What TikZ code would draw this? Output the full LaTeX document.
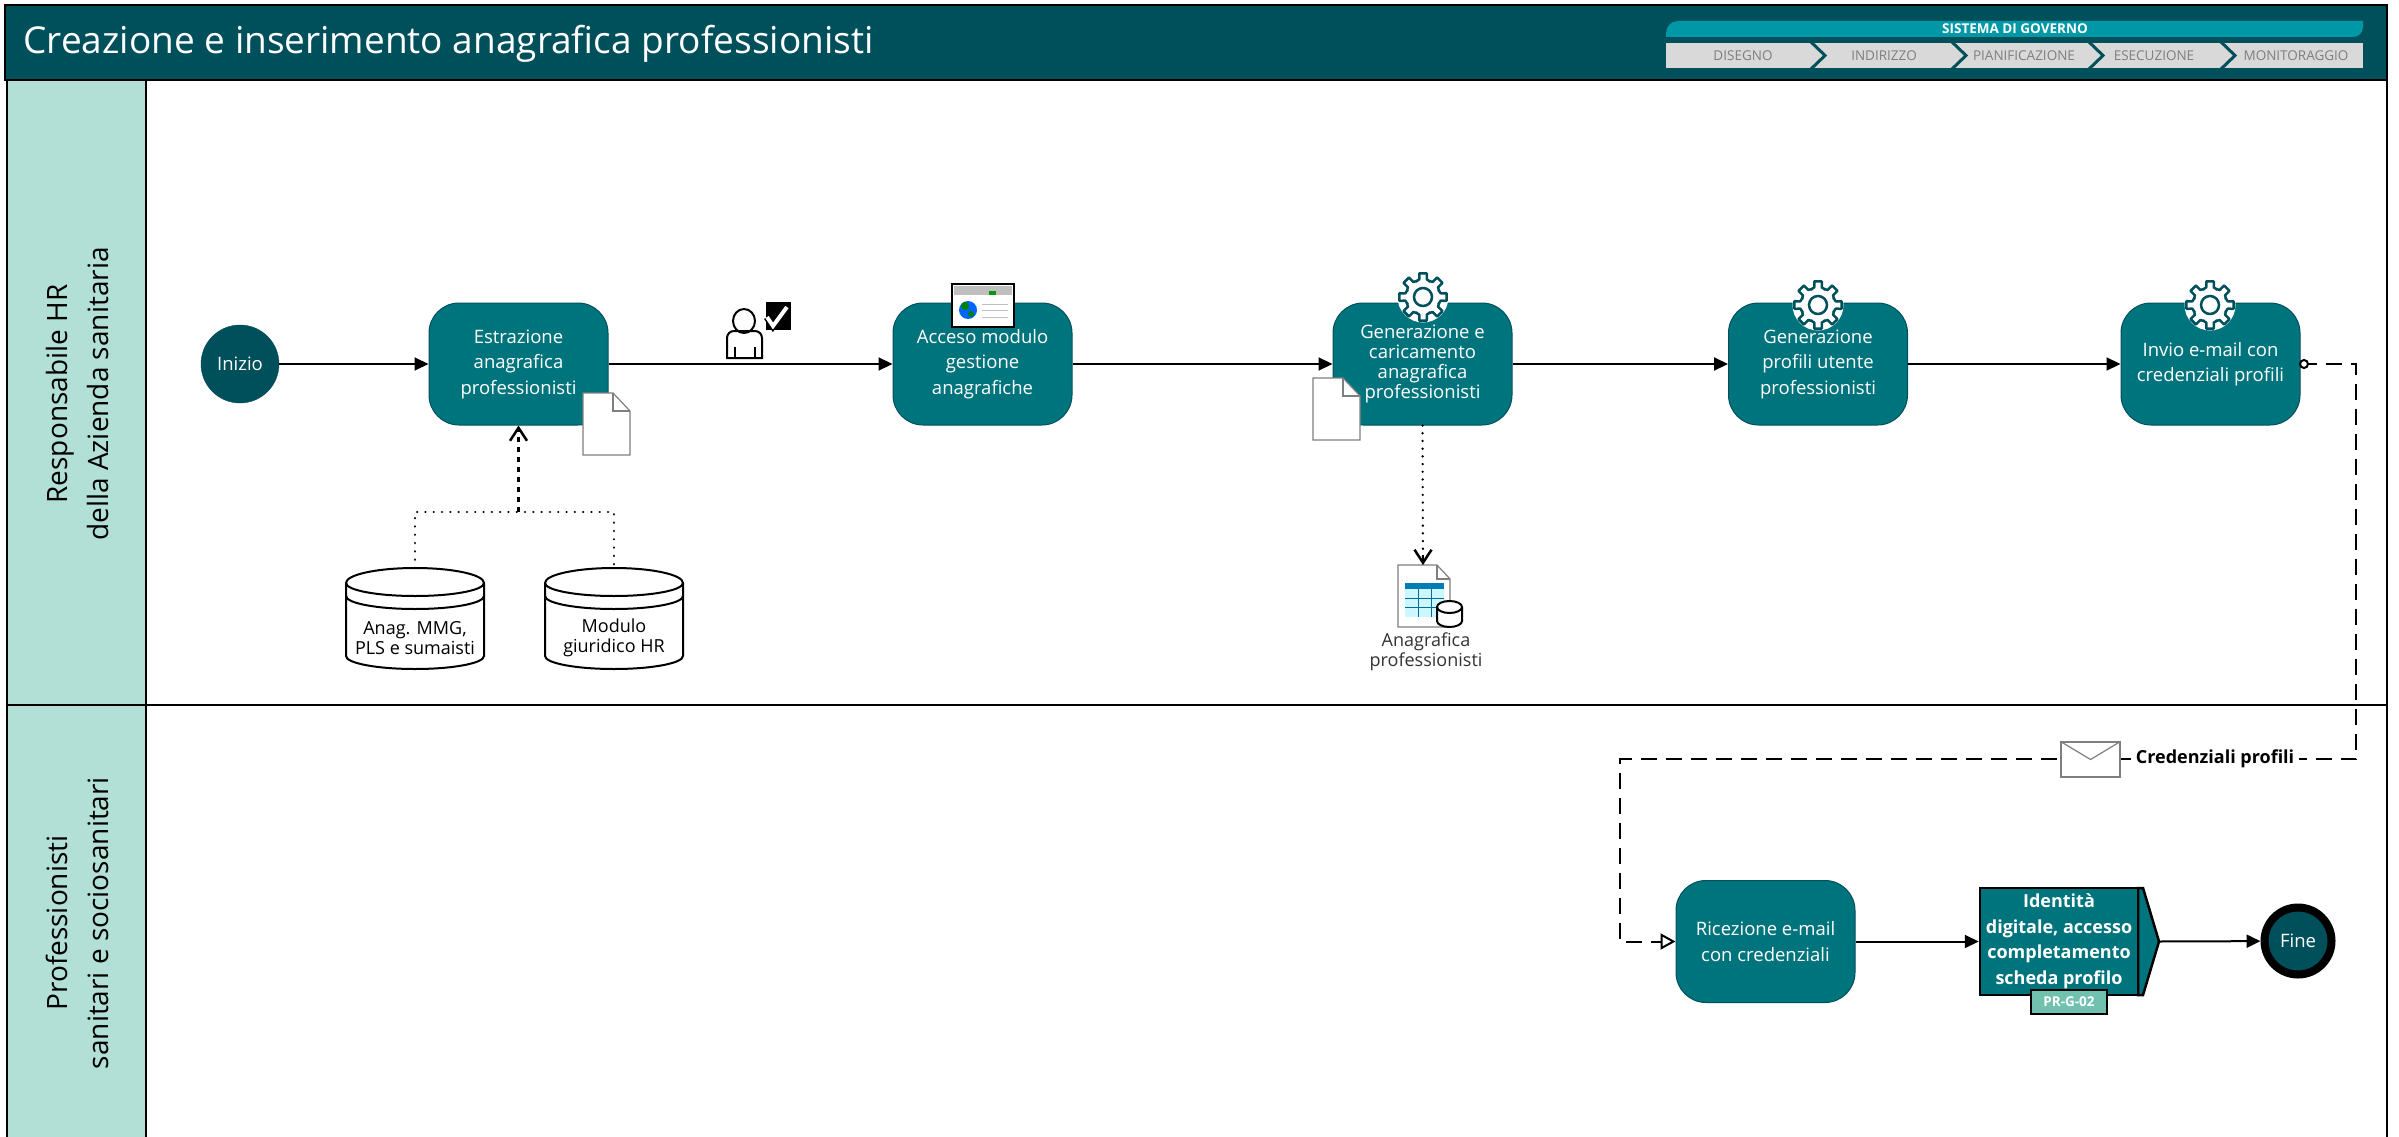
\documentclass[tikz,border=0pt]{standalone}
\usepackage{fontspec}
\setmainfont{Open Sans}
\usetikzlibrary{arrows.meta}
\definecolor{headteal}{RGB}{0,80,92}
\definecolor{boxteal}{RGB}{0,116,125}
\definecolor{barteal}{RGB}{0,151,167}
\definecolor{lanegreen}{RGB}{178,224,214}
\definecolor{tagteal}{RGB}{112,193,174}
\definecolor{chevgray}{RGB}{217,217,217}
\definecolor{chevtext}{RGB}{127,127,127}
\definecolor{docgray}{RGB}{127,127,127}
\tikzset{
	taskbox/.style={draw=headteal,line width=1pt,fill=boxteal,rounded corners=30pt,minimum width=179pt,minimum height=122pt,inner sep=0pt,align=center,text=white,font=\fontsize{18.5}{25.5}\selectfont},
	lanebox/.style={rotate=90,align=center,font=\fontsize{28}{41}\selectfont},
	chevlabel/.style={text=chevtext,font=\fontsize{13.5}{15}\selectfont},
	flow/.style={line width=2pt,-{Triangle[length=14pt,width=13pt]}},
	msgflow/.style={line width=2pt,dash pattern=on 16pt off 9pt,-{Triangle[open,fill=white,length=15pt,width=16pt,line width=2pt]}},
	dotlink/.style={line width=2.5pt,line cap=round,dash pattern=on 0.1pt off 8.2pt},
	datalink/.style={line width=2.5pt,dash pattern=on 5pt off 5pt,-{Straight Barb[length=13pt,width=17pt,line width=2.5pt]}},
	docicon/.pic={
		\draw[draw=docgray,fill=white,line width=1.2pt] (0,0) -- (30,0) -- (47,18) -- (47,62) -- (0,62) -- cycle;
		\draw[draw=docgray,line width=1.2pt] (30,0) -- (30,18) -- (47,18);
	},
	dbstore/.pic={
		\draw[fill=white,line width=2pt] (-69,15) arc[start angle=180,end angle=360,x radius=69,y radius=15] -- (69,88) arc[start angle=0,end angle=180,x radius=69,y radius=13] -- cycle;
		\draw[line width=2pt] (-69,15) arc[start angle=180,end angle=0,x radius=69,y radius=13];
		\draw[line width=2pt] (-69,28) arc[start angle=180,end angle=0,x radius=69,y radius=13];
	},
	gearicon/.pic={
		\fill[white] (0,0) circle (25.5);
		\foreach \a in {0,45,...,315}
			\draw[headteal,line width=2.5pt,line join=round] (\a-25:17) -- (\a-12:18) -- (\a-9:24) -- (\a+9:24) -- (\a+12:18) -- (\a+25:17);
		\draw[headteal,line width=2.5pt] (0,0) circle (9);
	},
}
\begin{document}
\begin{tikzpicture}[x=1pt,y=-1pt]
	\useasboundingbox (0,0) rectangle (2399,1137);
	\fill[white] (0,0) rectangle (2399,1137);
	\fill[lanegreen] (7,80) rectangle (146,1137);
	\draw[line width=2.5pt] (7,1137) -- (7,80) -- (2387,80) -- (2387,1137);
	\draw[line width=2.5pt] (146,80) -- (146,1137);
	\draw[line width=2.5pt] (7,705) -- (2387,705);
	\fill[headteal,draw=black,line width=2pt] (5,5) rectangle (2387,80);
	\node[anchor=west,text=white,font=\fontsize{37}{44}\selectfont] (titolo) at (20,44) {Creazione e inserimento anagrafica professionisti};
	% sistema di governo
	\fill[barteal] (1678,21) -- (2363,21) -- (2363,27) arc[start angle=0,end angle=90,radius=10] -- (1666,37) -- (1666,33) arc[start angle=180,end angle=270,radius=12] -- cycle;
	\node[text=white,font=\bfseries\fontsize{13.5}{15}\selectfont] (sistema) at (2015,29) {SISTEMA DI GOVERNO};
	\fill[chevgray] (1666,43) rectangle (2363,68);
	\foreach \x in {1811,1952,2089,2221}
		\draw[headteal,line width=3pt] (\x,42) -- (\x+14,55.5) -- (\x,69);
	\foreach \x/\t in {1743/DISEGNO,1884/INDIRIZZO,2024/PIANIFICAZIONE,2154/ESECUZIONE,2296/MONITORAGGIO}
		\node[chevlabel] at (\x,56) {\t};
	% corsie
	\node[lanebox] (lanehr) at (77.5,394) {Responsabile HR\\della Azienda sanitaria};
	\node[lanebox] (lanepro) at (77.5,923) {Professionisti\\sanitari e sociosanitari};
	% prima corsia
	\node[circle,draw=headteal,fill=headteal,minimum size=78pt,inner sep=0pt,text=white,font=\fontsize{18.5}{22}\selectfont] (inizio) at (240,364) {Inizio};
	\node[taskbox] (estr) at (518.5,364) {Estrazione\\anagrafica\\professionisti};
	\node[taskbox] (acceso) at (982.5,364) {Acceso modulo\\gestione\\anagrafiche};
	\node[taskbox,font=\fontsize{18.5}{20}\selectfont] (gencar) at (1422.5,364) {Generazione e\\caricamento\\anagrafica\\professionisti};
	\node[taskbox] (genprof) at (1818,364) {Generazione\\profili utente\\professionisti};
	\node[taskbox] (invio) at (2210.5,364) {Invio e-mail con\\credenziali profili};
	\draw[flow] (inizio) -- (estr);
	\draw[flow] (estr) -- (acceso);
	\draw[flow] (acceso) -- (gencar);
	\draw[flow] (gencar) -- (genprof);
	\draw[flow] (genprof) -- (invio);
	\pic at (583,393) {docicon};
	\pic at (1313,378) {docicon};
	\pic at (1423,297) {gearicon};
	\pic at (1818,305) {gearicon};
	\pic at (2210,305) {gearicon};
	% utente
	\draw[fill=white,line width=2pt] (744,321) ellipse (11 and 12);
	\draw[line width=2pt] (727,358) -- (727,338) arc[start angle=180,end angle=270,radius=7] -- (755,331) arc[start angle=270,end angle=360,radius=7] -- (762,358) -- cycle;
	\draw[line width=2pt] (735,358) -- (735,347) (755,358) -- (755,347);
	\fill[black] (766,302) rectangle (791,330);
	\draw[black,line width=7pt] (767,317) -- (773,326) -- (787,307);
	\draw[white,line width=4pt] (767,317) -- (773,326) -- (787,307);
	% finestra
	\draw[fill=white,line width=2pt] (952,284) rectangle (1014,327);
	\fill[gray!50] (954,286) rectangle (1012,295);
	\fill[green!60!black] (989,291) rectangle (996,295);
	\fill[blue!60!cyan] (968,310) circle (9);
	\fill[green!50!black] (965,306) circle (4) (971,314) circle (3);
	\foreach \y in {304,310,317}
		\draw[gray!50,line width=1pt] (982,\y) -- (1008,\y);
	% archivi
	\coordinate (mmgtop) at (415,568);
	\coordinate (modtop) at (614,568);
	\coordinate (snodo) at (518.5,512);
	\pic at (mmgtop) {dbstore};
	\pic at (modtop) {dbstore};
	\node[align=center,font=\fontsize{18}{19.5}\selectfont] (mmg) at (415,638) {Anag. MMG,\\PLS e sumaisti};
	\node[align=center,font=\fontsize{18}{19.5}\selectfont] (modulo) at (614,638) {Modulo\\giuridico HR};
	\draw[dotlink] (mmgtop) |- (snodo) -| (modtop);
	\draw[datalink] (snodo) -- (estr.south);
	% anagrafica
	\coordinate (tabtop) at (1423,565);
	\draw[dotlink,dash pattern=on 0.1pt off 7.6pt] (gencar.south) -- (tabtop);
	\draw[line width=2.5pt,-{Straight Barb[length=13pt,width=17pt,line width=2.5pt]}] (1423,555) -- (tabtop);
	\draw[draw=docgray,fill=white,line width=1.2pt] (1398,565) -- (1437,565) -- (1450,579) -- (1450,627) -- (1398,627) -- cycle;
	\draw[draw=docgray,line width=1.2pt] (1437,565) -- (1437,579) -- (1450,579);
	\fill[blue!15!cyan!20] (1405,583) rectangle (1444,617);
	\fill[blue!30!cyan!70!black] (1405,583) rectangle (1444,589);
	\foreach \x in {1418,1431}
		\draw[blue!30!cyan!60!black,line width=1pt] (\x,589) -- (\x,617);
	\foreach \y in {598,607}
		\draw[blue!30!cyan!60!black,line width=1pt] (1405,\y) -- (1444,\y);
	\draw[fill=white,line width=2pt] (1437,607) arc[start angle=180,end angle=360,x radius=12.5,y radius=6] -- (1462,621) arc[start angle=0,end angle=180,x radius=12.5,y radius=6] -- cycle;
	\draw[line width=2pt] (1437,607) arc[start angle=180,end angle=0,x radius=12.5,y radius=6];
	\node[align=center,text=black!80,font=\fontsize{18}{20}\selectfont] (anagfile) at (1426,652) {Anagrafica\\professionisti};
	% seconda corsia
	\node[taskbox] (ricez) at (1765.5,941.5) {Ricezione e-mail\\con credenziali};
	\fill[boxteal,draw=black,line width=2.5pt] (2138,888) -- (2143,888) -- (2159,941.5) -- (2143,995) -- (2138,995) -- cycle;
	\node[draw=black,line width=2.5pt,fill=boxteal,minimum width=158pt,minimum height=107pt,inner sep=0pt,align=center,text=white,font=\bfseries\fontsize{18}{25.5}\selectfont] (ident) at (2059,941.5) {Identità\\digitale, accesso\\completamento\\scheda profilo};
	\coordinate (identtip) at (2159,941.5);
	\node[draw=black,line width=2.5pt,fill=tagteal,minimum width=76pt,minimum height=24pt,inner sep=0pt,text=white,font=\bfseries\fontsize{13.5}{15}\selectfont] (tag) at (2069,1002) {PR-G-02};
	\node[circle,draw=black,line width=8pt,fill=headteal,minimum size=67pt,inner sep=0pt,text=white,font=\fontsize{18.5}{22}\selectfont] (fine) at (2298,941) {Fine};
	\draw[flow] (ricez) -- (ident);
	\draw[flow] (identtip) -- (fine);
	% messaggio
	\coordinate (msgright) at (2356,759);
	\coordinate (msgleft) at (1620,759);
	\draw[msgflow] (invio.east) -| (msgright) -- (msgleft) |- (ricez.west);
	\draw[fill=white,line width=2pt] (2304,364) circle (4);
	\node[draw=docgray,fill=white,line width=1.2pt,minimum width=59pt,minimum height=35pt,inner sep=0pt] (busta) at (2090.5,759.5) {};
	\draw[docgray,line width=1.2pt] (busta.north west) -- (busta.center) -- (busta.north east);
	\node[fill=white,inner xsep=5pt,inner ysep=2pt,font=\bfseries\fontsize{18}{22}\selectfont] (credenz) at (2215,759) {Credenziali profili};
\end{tikzpicture}
\end{document}
